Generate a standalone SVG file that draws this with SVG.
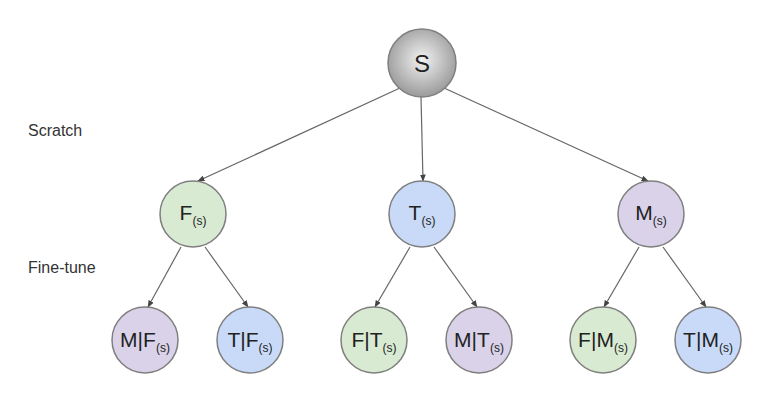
<svg xmlns="http://www.w3.org/2000/svg" width="784" height="418" viewBox="0 0 784 418">
<style>
.n{stroke:#7f7f7f;stroke-width:1.5}
.g{fill:#d9ead3}.b{fill:#c9daf8}.p{fill:#d9d2e9}
.t{font-family:"Liberation Sans",Arial,sans-serif;font-size:21px;fill:#222;text-anchor:middle}
.s{font-size:12px}
.lab{font-family:"Liberation Sans",Arial,sans-serif;font-size:16px;fill:#333}
.e{stroke:#666;stroke-width:1.2;fill:none;marker-end:url(#a)}
</style>
<defs>
<radialGradient id="rg" cx="0.5" cy="0.45" r="0.55">
<stop offset="0" stop-color="#f2f2f2"/>
<stop offset="1" stop-color="#9a9a9a"/>
</radialGradient>
<marker id="a" viewBox="0 0 10 10" refX="9" refY="5" markerWidth="6" markerHeight="6" orient="auto">
<path d="M0,1 L10,5 L0,9 Z" fill="#444"/>
</marker>
</defs>
<rect width="784" height="418" fill="#fff"/>
<text class="lab" x="28" y="136">Scratch</text>
<text class="lab" x="28" y="273">Fine-tune</text>
<g id="connectors">
<line class="e" x1="400" y1="88" x2="198" y2="181"/>
<line class="e" x1="421" y1="97" x2="423" y2="181"/>
<line class="e" x1="444" y1="88" x2="648" y2="181"/>
<line class="e" x1="181" y1="247" x2="148" y2="307"/>
<line class="e" x1="205" y1="247" x2="248" y2="307"/>
<line class="e" x1="410" y1="247" x2="375" y2="307"/>
<line class="e" x1="434" y1="247" x2="477" y2="307"/>
<line class="e" x1="639" y1="247" x2="604" y2="307"/>
<line class="e" x1="663" y1="247" x2="706" y2="307"/>
</g>
<g id="S"><circle cx="422" cy="63" r="34" fill="url(#rg)" class="n"/><text class="t" x="422" y="72" style="font-size:24px">S</text></g>
<g id="F"><circle class="n g" cx="193" cy="214" r="33"/><text class="t" x="193" y="220">F<tspan class="s" dy="5">(s)</tspan></text></g>
<g id="T"><circle class="n b" cx="422" cy="214" r="33"/><text class="t" x="422" y="220">T<tspan class="s" dy="5">(s)</tspan></text></g>
<g id="M"><circle class="n p" cx="651" cy="214" r="33"/><text class="t" x="651" y="220">M<tspan class="s" dy="5">(s)</tspan></text></g>
<g id="MF"><circle class="n p" cx="145" cy="340" r="33"/><text class="t" x="145" y="347">M|F<tspan class="s" dy="5">(s)</tspan></text></g>
<g id="TF"><circle class="n b" cx="250" cy="340" r="33"/><text class="t" x="250" y="347">T|F<tspan class="s" dy="5">(s)</tspan></text></g>
<g id="FT"><circle class="n g" cx="374" cy="340" r="33"/><text class="t" x="374" y="347">F|T<tspan class="s" dy="5">(s)</tspan></text></g>
<g id="MT"><circle class="n p" cx="479" cy="340" r="33"/><text class="t" x="479" y="347">M|T<tspan class="s" dy="5">(s)</tspan></text></g>
<g id="FM"><circle class="n g" cx="603" cy="340" r="33"/><text class="t" x="603" y="347">F|M<tspan class="s" dy="5">(s)</tspan></text></g>
<g id="TM"><circle class="n b" cx="708" cy="340" r="33"/><text class="t" x="708" y="347">T|M<tspan class="s" dy="5">(s)</tspan></text></g>
</svg>
